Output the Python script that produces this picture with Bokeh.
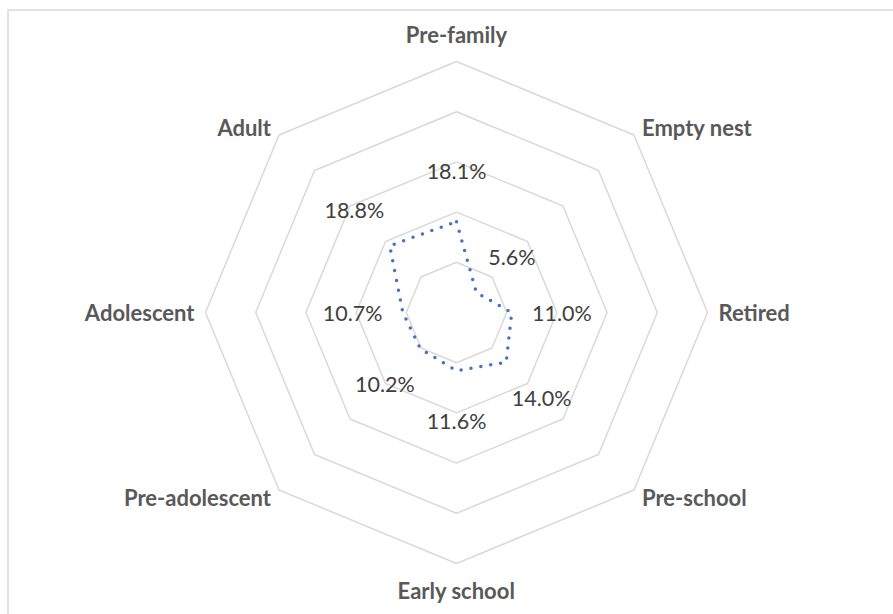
import numpy as np
from bokeh.plotting import figure
from bokeh.models import Range1d, ColumnDataSource
from bokeh.core.properties import value
from bokeh.embed import file_html
from bokeh.resources import INLINE

# ---- data ----
categories = ["Pre-family", "Empty nest", "Retired", "Pre-school",
              "Early school", "Pre-adolescent", "Adolescent", "Adult"]
shares = [18.1, 5.6, 11.0, 14.0, 11.6, 10.2, 10.7, 18.8]   # percent
ring_levels = [10, 20, 30, 40, 50]                          # percent

# ---- layout ----
W, H = 893, 614
CX, CY = 456, 312          # centre in screen px
K = 251 / 50.0             # px per percent

p = figure(width=W, height=H, output_backend="svg", toolbar_location=None,
           x_axis_location=None, y_axis_location=None,
           x_range=Range1d(-CX / K, (W - CX) / K),
           y_range=Range1d(-(H - CY) / K, CY / K),
           min_border=0, min_border_left=0, min_border_right=0,
           min_border_top=0, min_border_bottom=0)
p.grid.visible = False
p.outline_line_color = None
p.background_fill_color = "white"
p.border_fill_color = "white"

n = len(categories)
theta = np.pi / 2 - np.arange(n) * 2 * np.pi / n
c, s = np.cos(theta), np.sin(theta)

# chart border (light grey frame, clipped at right/bottom)
bx0, by0 = (7.5 - CX) / K, (CY - 9.5) / K
p.line([bx0, bx0, (W + 5 - CX) / K], [-(H + 5 - CY) / K, by0, by0],
       line_color="#d9d9d9", line_width=1.5)

# grid rings
for lv in ring_levels:
    xs = list(lv * c) + [lv * c[0]]
    ys = list(lv * s) + [lv * s[0]]
    p.line(xs, ys, line_color="#d9d9d9", line_width=1.5)

# data polygon
vals = np.array(shares)
xs = list(vals * c) + [vals[0] * c[0]]
ys = list(vals * s) + [vals[0] * s[0]]
p.line(xs, ys, line_color="#4472C4", line_width=3.5, line_dash="0 10",
       line_cap="round", line_join="round")

# value labels
lab_r = vals + 10
src = ColumnDataSource(dict(x=lab_r * c, y=lab_r * s,
                            t=["%.1f%%" % v for v in shares]))
p.text("x", "y", text="t", source=src, text_align="center",
       text_baseline="middle", text_font=value("Lato"),
       text_font_size="21.5px", text_color="#404040")

# category labels
outer = ring_levels[-1]
aligns, dxs, dys = [], [], []
for ci, si in zip(c, s):
    if ci > 0.1:
        aligns.append("left")
    elif ci < -0.1:
        aligns.append("right")
    else:
        aligns.append("center")
    if abs(si) < 0.1:
        dxs.append(11 * np.sign(ci)); dys.append(0)
    elif abs(ci) < 0.1:
        dxs.append(0); dys.append(-27 if si > 0 else 27)
    else:
        dxs.append(8 * np.sign(ci)); dys.append(-8 if si > 0 else 8)
csrc = ColumnDataSource(dict(x=outer * c, y=outer * s, t=categories,
                             a=aligns, dx=dxs, dy=dys))
p.text("x", "y", text="t", source=csrc, text_align="a",
       x_offset="dx", y_offset="dy",
       text_baseline="middle", text_font=value("Lato"),
       text_font_style="bold", text_font_size="22px", text_color="#595959")

open("out.html", "w").write(file_html(p, INLINE))
